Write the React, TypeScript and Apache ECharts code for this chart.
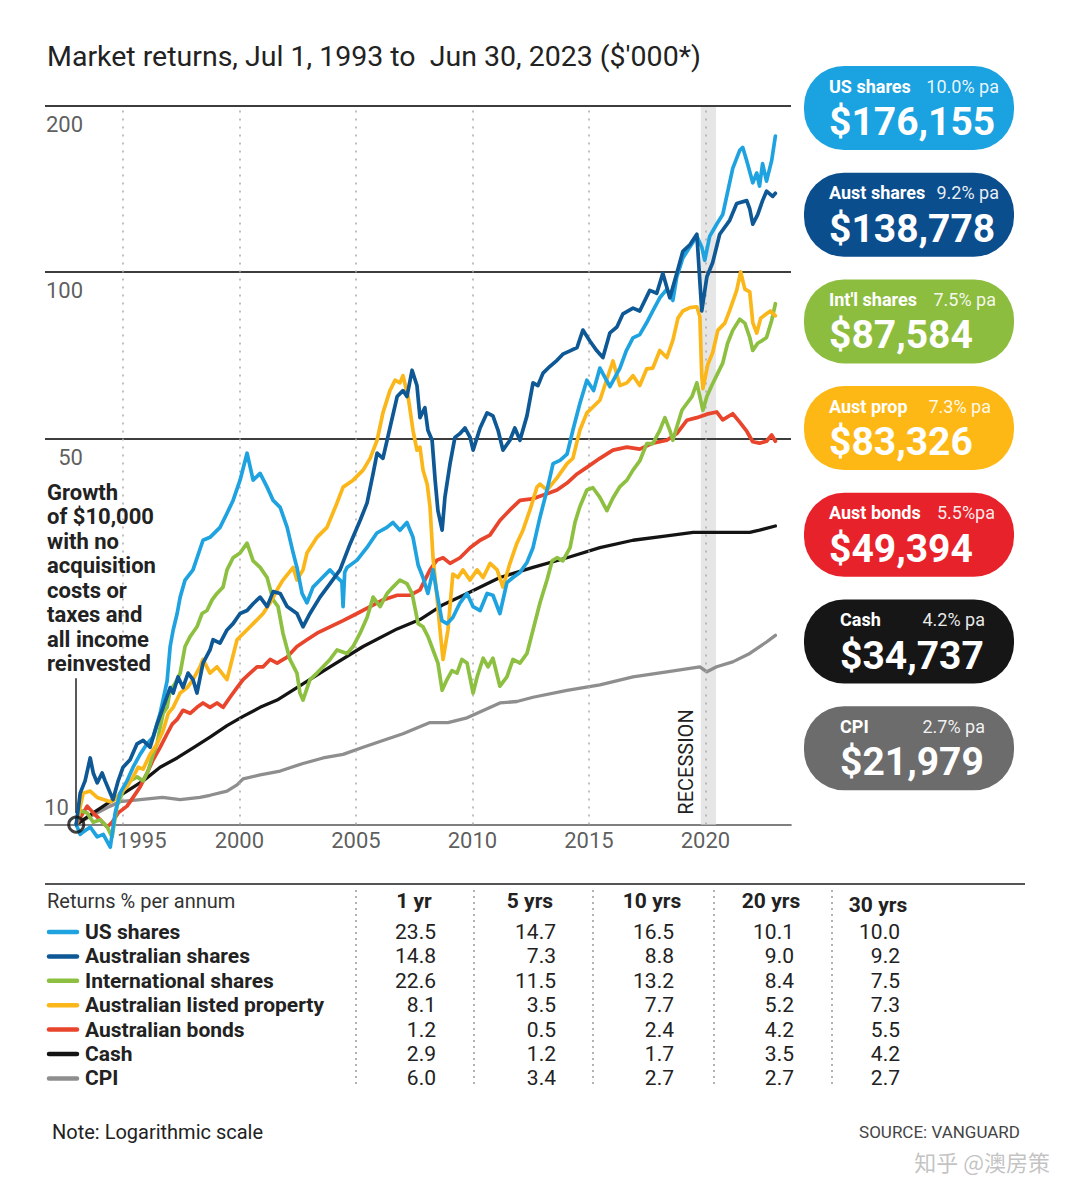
import React, { useEffect, useRef } from 'react';
import * as echarts from 'echarts';

// ---------- DATA ----------
const seriesNames = ['US shares', 'Australian shares', 'International shares', 'Australian listed property', 'Australian bonds', 'Cash', 'CPI'];
const seriesColors = ['#1fa3e0', '#0d5895', '#8dbf40', '#fbb619', '#e8452c', '#141414', '#8e8e8e'];

const usShares: [number, number][] = [
  [1993.5, 10], [1993.67, 9.6], [1993.8, 9.7], [1994.1, 9.9], [1994.4, 9.5], [1994.66, 9.6], [1994.96, 9.1], [1995.17, 10.5],
  [1995.38, 11.4], [1995.68, 12.0], [1995.94, 12.7], [1996.24, 13.4], [1996.54, 14.0], [1996.8, 14.4], [1997.1, 15.9], [1997.4, 18.2],
  [1997.53, 21.0], [1997.66, 22.5], [1997.83, 24.1], [1997.96, 25.8], [1998.17, 27.7], [1998.51, 28.9], [1998.94, 32.7], [1999.24, 33.1],
  [1999.67, 34.5], [1999.97, 36.6], [2000.23, 38.6], [2000.53, 42.0], [2000.83, 47.0], [2001.09, 42.0], [2001.39, 43.2], [2001.69, 40.8],
  [2001.95, 38.6], [2002.25, 37.5], [2002.55, 34.5], [2002.81, 31.0], [2002.97, 29.2], [2003.19, 26.2], [2003.4, 25.2], [2003.66, 26.9],
  [2003.96, 27.7], [2004.39, 28.9], [2004.69, 28.0], [2004.9, 27.5], [2004.95, 24.8], [2005.02, 28.6], [2005.12, 29.2], [2005.55, 30.1],
  [2005.97, 31.7], [2006.4, 33.7], [2006.83, 34.5], [2007.09, 35.2], [2007.39, 34.1], [2007.69, 35.2], [2007.95, 33.1], [2008.17, 29.5],
  [2008.38, 28.0], [2008.59, 26.2], [2008.81, 28.9], [2008.98, 26.2], [2009.19, 23.4], [2009.41, 23.1], [2009.66, 23.7], [2009.97, 25.2],
  [2010.27, 26.2], [2010.53, 24.8], [2010.83, 24.4], [2011.13, 26.2], [2011.38, 26.0], [2011.68, 24.1], [2011.98, 27.4], [2012.24, 28.0],
  [2012.54, 28.6], [2012.84, 29.8], [2013.1, 31.7], [2013.4, 36.0], [2013.7, 40.3], [2013.96, 45.0], [2014.26, 45.6], [2014.56, 46.8],
  [2014.81, 51.7], [2015.11, 57.8], [2015.41, 63.7], [2015.7, 61.0], [2015.97, 67.0], [2016.4, 62.0], [2016.83, 67.0], [2017.1, 72.0],
  [2017.39, 76.0], [2017.68, 77.0], [2017.98, 81.0], [2018.24, 85.0], [2018.54, 89.8], [2018.84, 93.0], [2019.1, 88.8], [2019.27, 98.0],
  [2019.53, 106.0], [2019.83, 111.0], [2020.13, 116.0], [2020.34, 111.0], [2020.47, 105.0], [2020.68, 116.0], [2020.98, 122.0], [2021.24, 127.0],
  [2021.41, 137.0], [2021.67, 154.0], [2021.97, 166.0], [2022.1, 168.0], [2022.27, 159.0], [2022.53, 145.0], [2022.7, 151.0], [2022.82, 143.0],
  [2022.95, 157.0], [2023.12, 146.0], [2023.34, 159.0], [2023.5, 176.2],
];

const ausShares: [number, number][] = [
  [1993.5, 10], [1993.67, 11.4], [1993.88, 12.0], [1994.1, 13.2], [1994.23, 12.4], [1994.4, 11.9], [1994.61, 12.4], [1994.74, 12.0],
  [1994.96, 11.4], [1995.08, 11.1], [1995.3, 12.0], [1995.51, 12.7], [1995.81, 13.1], [1996.11, 14.0], [1996.37, 14.2], [1996.67, 13.8],
  [1996.97, 15.2], [1997.23, 16.3], [1997.53, 17.7], [1997.66, 17.3], [1997.87, 18.5], [1998.08, 17.7], [1998.3, 18.8], [1998.51, 18.3],
  [1998.68, 17.3], [1998.94, 19.6], [1999.24, 20.7], [1999.37, 21.6], [1999.67, 21.3], [1999.97, 22.5], [2000.23, 23.1], [2000.53, 24.1],
  [2000.83, 24.4], [2001.09, 25.1], [2001.39, 25.8], [2001.69, 24.8], [2001.95, 26.4], [2002.25, 26.2], [2002.55, 24.8], [2002.97, 24.1],
  [2003.23, 22.8], [2003.53, 24.1], [2003.96, 25.8], [2004.39, 27.3], [2004.82, 28.9], [2005.25, 32.2], [2005.68, 35.5], [2005.98, 38.2],
  [2006.24, 43.2], [2006.41, 47.0], [2006.66, 46.0], [2006.96, 52.2], [2007.27, 59.5], [2007.52, 61.0], [2007.69, 59.5], [2007.91, 66.4],
  [2008.12, 62.3], [2008.25, 54.5], [2008.46, 56.8], [2008.59, 51.7], [2008.77, 49.6], [2008.9, 42.0], [2009.02, 37.0], [2009.2, 34.1],
  [2009.32, 39.1], [2009.54, 45.0], [2009.75, 50.2], [2009.97, 51.0], [2010.18, 52.2], [2010.4, 50.2], [2010.53, 47.6], [2010.83, 52.2],
  [2011.13, 55.6], [2011.38, 54.9], [2011.6, 51.7], [2011.81, 47.6], [2012.11, 49.6], [2012.32, 52.2], [2012.54, 49.6], [2012.84, 54.9],
  [2013.1, 63.0], [2013.31, 62.3], [2013.53, 65.6], [2013.83, 67.5], [2014.13, 69.2], [2014.38, 71.0], [2014.69, 72.0], [2014.99, 73.0],
  [2015.24, 78.5], [2015.54, 75.0], [2015.84, 72.0], [2016.1, 70.0], [2016.4, 77.6], [2016.7, 79.5], [2016.96, 84.0], [2017.39, 86.0],
  [2017.68, 85.0], [2018.11, 92.6], [2018.41, 91.5], [2018.67, 99.5], [2018.97, 89.8], [2019.27, 99.5], [2019.53, 109.0], [2019.83, 112.0],
  [2020.13, 117.0], [2020.34, 85.0], [2020.56, 98.0], [2020.81, 104.0], [2021.11, 117.0], [2021.54, 124.0], [2021.84, 133.0], [2022.27, 134.6],
  [2022.4, 130.0], [2022.53, 122.0], [2022.74, 127.0], [2022.95, 134.6], [2023.12, 140.0], [2023.38, 137.0], [2023.5, 138.8],
];

const intlShares: [number, number][] = [
  [1993.5, 10], [1993.67, 10.6], [1993.97, 10.5], [1994.23, 10.1], [1994.53, 10.2], [1994.83, 9.9], [1995.04, 9.5], [1995.25, 10.8],
  [1995.51, 11.5], [1995.81, 12.0], [1996.11, 12.2], [1996.37, 12.0], [1996.58, 12.5], [1996.8, 13.4], [1996.97, 14.0], [1997.1, 15.0],
  [1997.23, 15.9], [1997.4, 16.3], [1997.53, 17.5], [1997.74, 18.0], [1997.96, 18.8], [1998.17, 21.0], [1998.39, 21.9], [1998.68, 22.8],
  [1998.9, 24.1], [1999.11, 24.4], [1999.33, 25.5], [1999.54, 26.2], [1999.8, 26.9], [1999.97, 28.9], [2000.23, 30.4], [2000.53, 31.0],
  [2000.83, 32.3], [2001.09, 30.0], [2001.39, 29.2], [2001.69, 28.0], [2001.95, 25.5], [2002.16, 24.8], [2002.37, 22.2], [2002.67, 19.9],
  [2002.97, 18.8], [2003.1, 17.3], [2003.23, 16.8], [2003.53, 18.3], [2003.83, 18.8], [2004.09, 19.3], [2004.39, 19.9], [2004.69, 20.7],
  [2005.12, 20.4], [2005.38, 21.0], [2005.68, 22.2], [2005.98, 23.7], [2006.24, 25.8], [2006.54, 24.8], [2006.84, 26.2], [2007.09, 26.9],
  [2007.39, 27.7], [2007.69, 27.3], [2007.91, 26.2], [2008.17, 23.1], [2008.38, 22.8], [2008.59, 21.9], [2008.81, 20.7], [2009.02, 19.6],
  [2009.2, 17.5], [2009.41, 18.3], [2009.62, 19.0], [2009.84, 18.8], [2010.05, 19.9], [2010.27, 19.6], [2010.53, 17.3], [2010.7, 18.5],
  [2010.96, 20.0], [2011.17, 19.3], [2011.38, 20.0], [2011.68, 17.8], [2011.98, 18.5], [2012.24, 19.9], [2012.54, 19.6], [2012.84, 20.4],
  [2013.1, 22.5], [2013.4, 25.2], [2013.7, 27.7], [2013.92, 30.0], [2014.13, 30.4], [2014.38, 30.0], [2014.69, 31.7], [2014.9, 35.2],
  [2015.11, 37.6], [2015.41, 40.3], [2015.67, 40.7], [2015.97, 39.1], [2016.27, 37.0], [2016.53, 39.0], [2016.83, 40.9], [2017.13, 42.0],
  [2017.39, 43.8], [2017.68, 45.5], [2017.98, 48.9], [2018.24, 48.9], [2018.54, 51.7], [2018.76, 54.5], [2018.97, 51.7], [2019.1, 49.6],
  [2019.27, 52.4], [2019.49, 56.2], [2019.7, 57.8], [2019.92, 59.5], [2020.13, 63.0], [2020.26, 59.5], [2020.39, 56.2], [2020.56, 59.5],
  [2020.77, 62.3], [2021.03, 65.6], [2021.24, 68.4], [2021.45, 74.3], [2021.67, 78.4], [2021.97, 82.1], [2022.19, 80.8], [2022.4, 76.1],
  [2022.53, 72.1], [2022.74, 74.3], [2022.95, 75.2], [2023.12, 76.1], [2023.34, 81.7], [2023.5, 87.6],
];

const ausProperty: [number, number][] = [
  [1993.5, 10], [1993.8, 11.4], [1994.1, 11.5], [1994.4, 11.2], [1994.66, 11.1], [1994.96, 11.0], [1995.17, 11.1], [1995.38, 11.4],
  [1995.68, 11.7], [1995.94, 12.2], [1996.16, 12.7], [1996.37, 12.6], [1996.67, 13.4], [1996.97, 14.0], [1997.23, 14.8], [1997.45, 15.9],
  [1997.66, 16.3], [1997.96, 17.3], [1998.26, 17.7], [1998.51, 18.3], [1998.81, 19.3], [1998.94, 19.9], [1999.24, 18.8], [1999.54, 19.3],
  [1999.97, 18.3], [2000.4, 21.6], [2000.96, 22.8], [2001.52, 24.1], [2001.82, 25.2], [2002.12, 26.6], [2002.37, 27.7], [2002.81, 29.2],
  [2002.97, 27.7], [2003.23, 28.9], [2003.4, 31.0], [2003.83, 33.1], [2004.26, 34.5], [2004.69, 38.2], [2004.95, 40.8], [2005.38, 42.0],
  [2005.81, 43.8], [2006.11, 46.0], [2006.41, 49.6], [2006.66, 55.6], [2006.96, 61.0], [2007.18, 63.7], [2007.39, 63.0], [2007.52, 64.9],
  [2007.74, 59.5], [2007.95, 51.7], [2008.12, 47.6], [2008.25, 48.2], [2008.38, 43.8], [2008.56, 41.3], [2008.68, 37.6], [2008.81, 30.4],
  [2008.98, 25.8], [2009.11, 22.5], [2009.24, 19.9], [2009.45, 22.5], [2009.66, 28.4], [2009.88, 28.0], [2010.09, 28.9], [2010.4, 27.7],
  [2010.7, 28.9], [2010.96, 28.0], [2011.26, 29.7], [2011.56, 28.9], [2011.81, 26.9], [2012.11, 29.7], [2012.41, 32.3], [2012.67, 34.1],
  [2012.97, 37.1], [2013.27, 40.8], [2013.4, 41.3], [2013.7, 40.3], [2014.13, 42.4], [2014.56, 45.0], [2014.81, 46.0], [2015.11, 51.7],
  [2015.41, 55.6], [2015.97, 58.6], [2016.53, 69.0], [2016.83, 62.3], [2017.13, 63.0], [2017.39, 64.9], [2017.68, 62.3], [2017.98, 66.8],
  [2018.24, 67.0], [2018.54, 72.1], [2018.84, 70.0], [2019.1, 75.2], [2019.32, 82.5], [2019.53, 85.0], [2019.83, 86.2], [2020.13, 86.5],
  [2020.26, 83.0], [2020.34, 65.0], [2020.39, 61.5], [2020.6, 68.0], [2020.81, 71.5], [2021.03, 78.4], [2021.33, 80.8], [2021.54, 85.2],
  [2021.84, 92.6], [2022.01, 100.0], [2022.19, 93.1], [2022.4, 92.0], [2022.53, 81.0], [2022.7, 77.5], [2022.87, 82.5], [2023.12, 84.0],
  [2023.29, 85.0], [2023.5, 83.3],
];

const ausBonds: [number, number][] = [
  [1993.5, 10], [1993.97, 10.8], [1994.23, 10.5], [1994.53, 10.2], [1994.83, 9.9], [1995.04, 10.1], [1995.3, 10.5], [1995.68, 10.8],
  [1995.94, 11.2], [1996.24, 11.7], [1996.54, 12.4], [1996.8, 13.1], [1997.1, 13.8], [1997.4, 14.6], [1997.62, 15.2], [1997.83, 15.5],
  [1998.08, 16.1], [1998.39, 15.9], [1998.68, 16.3], [1998.94, 16.6], [1999.24, 16.3], [1999.54, 16.6], [1999.8, 16.3], [2000.1, 17.0],
  [2000.4, 17.7], [2000.66, 18.3], [2000.96, 18.8], [2001.26, 19.3], [2001.52, 19.3], [2001.82, 19.9], [2002.12, 19.6], [2002.55, 20.1],
  [2002.97, 21.0], [2003.4, 21.6], [2003.83, 22.2], [2004.39, 22.8], [2004.95, 23.4], [2005.55, 24.1], [2006.11, 24.8], [2006.66, 25.5],
  [2007.27, 26.0], [2007.82, 26.0], [2008.25, 26.6], [2008.68, 28.9], [2008.98, 30.1], [2009.24, 30.4], [2009.54, 29.7], [2009.97, 30.4],
  [2010.4, 31.7], [2010.83, 32.7], [2011.25, 33.4], [2011.68, 35.5], [2012.11, 37.1], [2012.54, 38.6], [2012.97, 38.8], [2013.27, 39.1],
  [2013.7, 39.7], [2014.13, 40.3], [2014.56, 41.5], [2014.99, 43.1], [2015.41, 44.3], [2015.97, 46.0], [2016.53, 47.6], [2017.13, 48.2],
  [2017.68, 47.8], [2018.24, 49.0], [2018.84, 49.6], [2019.27, 51.0], [2019.7, 53.9], [2020.13, 54.5], [2020.56, 55.3], [2020.98, 55.8],
  [2021.24, 54.0], [2021.67, 55.4], [2021.97, 53.5], [2022.27, 51.5], [2022.53, 49.3], [2022.82, 49.0], [2023.12, 49.4], [2023.34, 50.7],
  [2023.5, 49.4],
];

const cash: [number, number][] = [
  [1993.5, 10], [1994.23, 10.5], [1994.96, 11.0], [1995.68, 11.5], [1996.37, 12.0], [1997.1, 12.7], [1997.83, 13.2], [1998.55, 13.8],
  [1999.24, 14.4], [1999.97, 15.1], [2000.66, 15.7], [2001.39, 16.3], [2002.12, 16.8], [2002.97, 17.7], [2004.39, 19.3], [2005.81, 21.0],
  [2007.27, 22.6], [2008.25, 23.5], [2009.24, 25.0], [2010.27, 26.2], [2011.68, 28.0], [2013.1, 29.2], [2014.56, 30.4], [2015.97, 31.7],
  [2017.39, 32.7], [2018.84, 33.3], [2019.97, 33.8], [2021.0, 33.8], [2022.4, 33.8], [2022.82, 34.1], [2023.5, 34.7],
];

const cpi: [number, number][] = [
  [1993.5, 10], [1994.2, 10.4], [1994.96, 10.8], [1995.38, 11.0], [1996.24, 11.1], [1997.2, 11.2], [1997.96, 11.1], [1998.81, 11.2],
  [1999.24, 11.3], [1999.97, 11.5], [2000.4, 11.8], [2000.66, 12.1], [2001.39, 12.3], [2002.25, 12.5], [2003.23, 12.9], [2004.09, 13.2],
  [2004.95, 13.4], [2005.81, 13.8], [2006.66, 14.2], [2007.52, 14.6], [2008.68, 15.3], [2009.45, 15.3], [2010.27, 15.6], [2011.68, 16.6],
  [2012.41, 16.7], [2013.1, 17.0], [2014.56, 17.5], [2015.97, 17.9], [2017.39, 18.5], [2018.84, 18.9], [2020.26, 19.3], [2020.56, 18.9],
  [2020.98, 19.3], [2021.67, 19.7], [2022.4, 20.4], [2023.12, 21.4], [2023.5, 22.0],
];

const seriesData = [usShares, ausShares, intlShares, ausProperty, ausBonds, cash, cpi];

const tickYears = [1995, 2000, 2005, 2010, 2015, 2020];
const yTicks = [200, 100, 50, 10];
const recession = [2020.3, 2020.95];
const startPoint: [number, number] = [1993.5, 10];

const badgeNames = ['US shares', 'Aust shares', "Int'l shares", 'Aust prop', 'Aust bonds', 'Cash', 'CPI'];
const badgeRates = ['10.0% pa', '9.2% pa', '7.5% pa', '7.3% pa', '5.5%pa', '4.2% pa', '2.7% pa'];
const badgeValues = ['$176,155', '$138,778', '$87,584', '$83,326', '$49,394', '$34,737', '$21,979'];
const badgeColors = ['#1ba2e1', '#0b4e8e', '#8dbd3e', '#fdb815', '#e8222a', '#161616', '#6c6c6c'];

const tableTitle = 'Returns % per annum';
const tableHeaders = ['1 yr', '5 yrs', '10 yrs', '20 yrs', '30 yrs'];
const tableRows = [
  [23.5, 14.7, 16.5, 10.1, 10.0],
  [14.8, 7.3, 8.8, 9.0, 9.2],
  [22.6, 11.5, 13.2, 8.4, 7.5],
  [8.1, 3.5, 7.7, 5.2, 7.3],
  [1.2, 0.5, 2.4, 4.2, 5.5],
  [2.9, 1.2, 1.7, 3.5, 4.2],
  [6.0, 3.4, 2.7, 2.7, 2.7],
];

const titleText = "Market returns, Jul 1, 1993 to  Jun 30, 2023 ($'000*)";
const growthNote = ['Growth', 'of $10,000', 'with no', 'acquisition', 'costs or', 'taxes and', 'all income', 'reinvested'];
const noteText = 'Note: Logarithmic scale';
const sourceText = 'SOURCE: VANGUARD';
const watermarkText = '知乎 @澳房策';

// ---------- LAYOUT ----------
const W = 1080;
const H = 1177;
const FONT = 'Roboto, "Noto Sans", sans-serif';
const X_MIN = 1992.16;
const X_MAX = 2024.17;
const GRID = { left: 45, right: W - 791, top: 105.6, bottom: H - 824.6 };

function txt(x: number, y: number, text: string, font: string, fill: string, align = 'left', vAlign = 'middle', extra: any = {}) {
  return {
    type: 'text', x, y, silent: true, z: 50, ...extra,
    style: { text, font, fill, align, verticalAlign: vAlign, textAlign: align, textVerticalAlign: vAlign },
  };
}

function buildGraphics() {
  const g: any[] = [];
  g.push(txt(47, 56, titleText, `28.5px ${FONT}`, '#222'));

  // growth annotation
  growthNote.forEach((line, i) => g.push(txt(47, 492 + i * 24.5, line, `bold 22px ${FONT}`, '#222')));

  // recession label
  g.push(txt(686, 762, 'RECESSION', `20px ${FONT}`, '#222', 'center', 'middle', { rotation: Math.PI / 2 }));

  // badges
  badgeNames.forEach((name, i) => {
    const top = 66 + i * 106.7;
    const left = 804;
    const textX = i >= 5 ? 840 : 829;
    const rateX = i >= 5 ? 985 : [999, 999, 996, 991, 995][i];
    g.push({ type: 'rect', silent: true, z: 40, shape: { x: left, y: top, width: 210, height: 84, r: 40 }, style: { fill: badgeColors[i] } });
    g.push(txt(textX, top + 20, name, `bold 18px ${FONT}`, '#ffffff'));
    g.push(txt(rateX, top + 20, badgeRates[i], `18px ${FONT}`, 'rgba(255,255,255,0.92)', 'right'));
    g.push(txt(textX, top + 56, badgeValues[i], `bold 39px ${FONT}`, '#ffffff'));
  });

  // table
  g.push({ type: 'line', silent: true, z: 40, shape: { x1: 45, y1: 884, x2: 1025, y2: 884 }, style: { stroke: '#555', lineWidth: 2 } });
  g.push(txt(47, 901, tableTitle, `20px ${FONT}`, '#333'));
  const colCenters = [414, 530, 652, 771, 878];
  const colRights = [436, 556, 674, 794, 900];
  const sepX = [356, 474, 593, 714, 832];
  tableHeaders.forEach((h, j) => g.push(txt(colCenters[j], j === 4 ? 905 : 901, h, `bold 21px ${FONT}`, '#222', 'center')));
  sepX.forEach((x) => g.push({ type: 'line', silent: true, z: 40, shape: { x1: x, y1: 890, x2: x, y2: 1086 }, style: { stroke: '#999', lineWidth: 1.5, lineDash: [2, 4] } }));
  tableRows.forEach((row, i) => {
    const y = 932 + i * 24.4;
    g.push({ type: 'line', silent: true, z: 40, shape: { x1: 49, y1: y, x2: 77, y2: y }, style: { stroke: seriesColors[i], lineWidth: 4.5, lineCap: 'round' } });
    g.push(txt(85, y, seriesNames[i], `bold 21px ${FONT}`, '#222'));
    row.forEach((v, j) => g.push(txt(colRights[j], y, v.toFixed(1), `21px ${FONT}`, '#222', 'right')));
  });

  g.push(txt(52, 1132, noteText, `20px ${FONT}`, '#222'));
  g.push(txt(1020, 1132, sourceText, `17px ${FONT}`, '#444', 'right'));
  g.push(txt(1050, 1161, watermarkText, `22px "Noto Sans CJK SC", sans-serif`, 'rgba(175,175,175,0.75)', 'right'));
  return g;
}

function buildOption(): any {
  const lineOrder = [6, 5, 4, 2, 3, 0, 1];
  const lines = lineOrder.map((idx, k) => ({
    type: 'line',
    name: seriesNames[idx],
    data: seriesData[idx],
    showSymbol: false,
    symbol: 'none',
    clip: false,
    silent: true,
    z: 3 + k,
    lineStyle: { width: idx >= 5 ? 3.3 : 3.7, color: seriesColors[idx], join: 'round', cap: 'round' },
    itemStyle: { color: seriesColors[idx] },
    emphasis: { disabled: true },
  }));

  const frame = {
    type: 'scatter',
    silent: true,
    clip: false,
    z: 2,
    symbol: 'circle',
    symbolSize: 0.01,
    itemStyle: { color: 'rgba(0,0,0,0)' },
    data: yTicks.map((v) => ({
      value: [X_MIN, v],
      label: v === 10 ? { position: [24, -28] } : { position: [38, 8] },
    })),
    label: {
      show: true,
      formatter: (p: any) => String(p.value[1]),
      align: 'right',
      verticalAlign: 'top',
      fontSize: 22,
      fontFamily: FONT,
      color: '#333',
    },
    markArea: {
      silent: true,
      itemStyle: { color: '#e6e6e6' },
      data: [[{ xAxis: recession[0] }, { xAxis: recession[1] }]],
    },
    markLine: {
      silent: true,
      symbol: ['none', 'none'],
      label: { show: false },
      animation: false,
      data: [
        ...yTicks.filter((v) => v !== 10).map((v) => ({ yAxis: v, lineStyle: { color: '#3d3d3d', width: 1.8, type: 'solid' } })),
        ...tickYears.map((y) => ({ xAxis: y + 0.5, lineStyle: { color: '#aaaaaa', width: 1.5, type: [2, 6] } })),
      ],
    },
  };

  const xLabels = {
    type: 'scatter',
    silent: true,
    clip: false,
    z: 2,
    symbol: 'circle',
    symbolSize: 0.01,
    itemStyle: { color: 'rgba(0,0,0,0)' },
    data: tickYears.map((y, i) => ({
      name: String(y),
      value: [y + 0.5, 10],
      label: i === 0 ? { offset: [19, 0] } : {},
    })),
    label: { show: true, position: 'bottom', distance: 5, formatter: '{b}', fontSize: 22, fontFamily: FONT, color: '#333' },
  };

  const start = {
    type: 'scatter',
    silent: true,
    clip: false,
    z: 20,
    symbol: 'circle',
    symbolSize: 15,
    itemStyle: { color: 'rgba(255,255,255,0)', borderColor: '#111', borderWidth: 3 },
    data: [startPoint],
    markLine: {
      silent: true,
      symbol: ['none', 'none'],
      label: { show: false },
      lineStyle: { color: '#222', width: 1.5, type: 'solid' },
      data: [[{ coord: [startPoint[0], 18.4] }, { coord: [startPoint[0], 10.5] }]],
    },
  };

  return {
    animation: false,
    backgroundColor: '#ffffff',
    grid: GRID,
    xAxis: {
      type: 'value',
      min: X_MIN,
      max: X_MAX,
      axisLine: { show: true, onZero: false, lineStyle: { color: '#555', width: 1.6 } },
      axisTick: { show: false },
      axisLabel: { show: false },
      splitLine: { show: false },
    },
    yAxis: {
      type: 'log',
      logBase: 10,
      min: 10,
      max: 200,
      axisLine: { show: false },
      axisTick: { show: false },
      axisLabel: { show: false },
      splitLine: { show: false },
    },
    graphic: { elements: buildGraphics() },
    series: [frame, xLabels, ...lines, start],
  };
}

export default function App() {
  const ref = useRef<HTMLDivElement>(null);
  useEffect(() => {
    document.body.style.margin = '0';
    if (!ref.current) return;
    const chart = echarts.init(ref.current, undefined, { renderer: 'svg', width: W, height: H });
    chart.setOption(buildOption());
    return () => chart.dispose();
  }, []);
  return <div ref={ref} style={{ width: W, height: H, background: '#fff' }} />;
}
